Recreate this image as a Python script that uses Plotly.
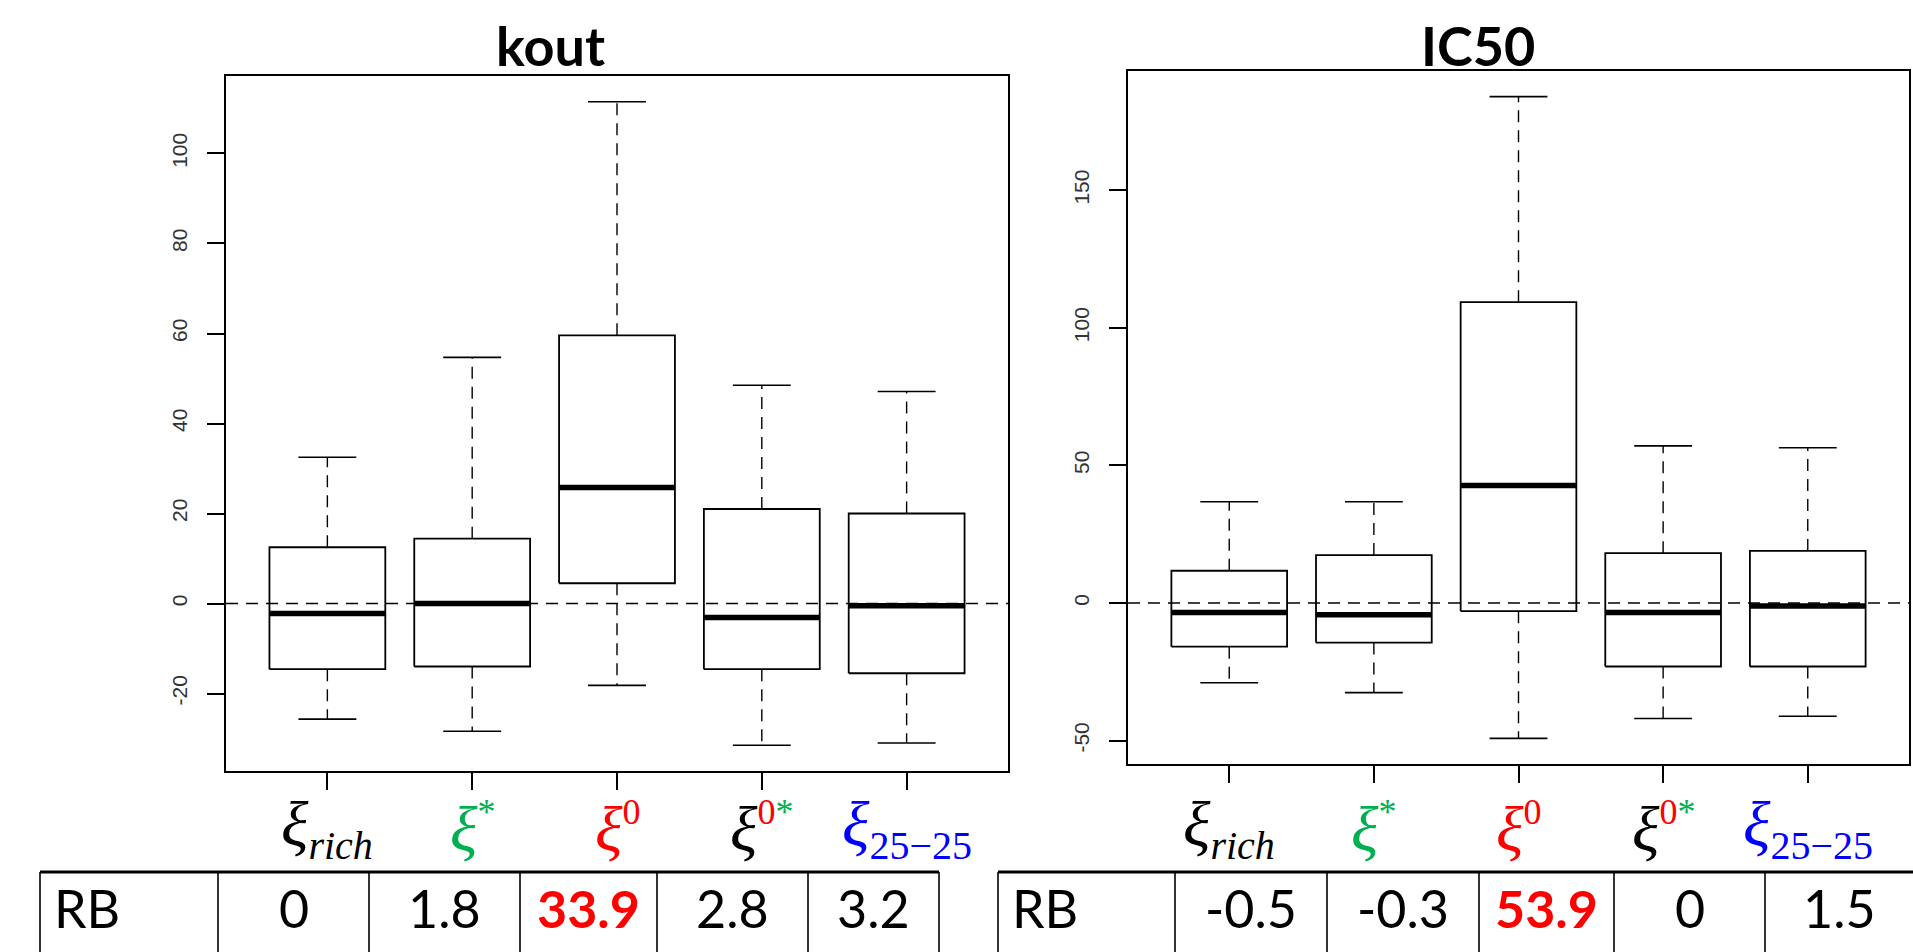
import plotly.graph_objects as go

# ---------------- data ----------------
categories = ["ξ_rich", "ξ*", "ξ0", "ξ0*", "ξ25-25"]

kout_lower = [-25.7, -28.4, -18.2, -31.5, -31.0]
kout_q1 = [-14.6, -14.0, 4.5, -14.6, -15.5]
kout_median = [-2.2, 0.0, 25.8, -3.1, -0.5]
kout_q3 = [12.5, 14.4, 59.6, 21.0, 20.0]
kout_upper = [32.5, 54.7, 111.5, 48.5, 47.1]

ic50_lower = [-29.0, -32.6, -49.2, -42.0, -41.2]
ic50_q1 = [-15.9, -14.4, -3.0, -23.1, -23.1]
ic50_median = [-3.5, -4.3, 42.7, -3.5, -1.1]
ic50_q3 = [11.7, 17.4, 109.3, 18.1, 18.9]
ic50_upper = [36.8, 36.8, 184.0, 57.1, 56.4]

kout_ticks = [-20, 0, 20, 40, 60, 80, 100]
ic50_ticks = [-50, 0, 50, 100, 150]

rb_label = "RB"
rb_kout = ["0", "1.8", "33.9", "2.8", "3.2"]
rb_ic50 = ["-0.5", "-0.3", "53.9", "0", "1.5"]
rb_highlight = [False, False, True, False, False]

titles = ["kout", "IC50"]

# ---------------- styling ----------------
W, H = 1913, 952
GREEN = "#00b050"
RED = "#ff0000"
BLUE = "#0000ff"
SUB = "font-size:40px"
SUP = "font-size:36px"

xi_labels = [
    f"<span style='color:black'><i>ξ</i><sub><span style='{SUB}'><i>rich</i></span></sub></span>",
    f"<span style='color:{GREEN}'><i>ξ</i><sup><span style='{SUP}'>*</span></sup></span>",
    f"<span style='color:{RED}'><i>ξ</i><sup><span style='{SUP}'>0</span></sup></span>",
    f"<span style='color:black'><i>ξ</i></span><sup><span style='color:{RED};{SUP}'>0</span><span style='color:{GREEN};{SUP}'>*</span></sup>",
    f"<span style='color:{BLUE}'><i>ξ</i><sub><span style='{SUB}'>25−25</span></sub></span>",
]

# pixel boxes of the two plot regions (left, right, top, bottom)
panels = [
    dict(x0=226, x1=1008, top=76, bottom=771),
    dict(x0=1128, x1=1909, top=71, bottom=764),
]
table_cols = [
    [40, 218, 369, 520, 657, 808, 939],
    [998, 1175, 1327, 1479, 1614, 1765, 1913],
]
table_top = 872
title_pos = [(550, 45), (1478, 45)]
text_row_y = 908


def px(x):
    return x / W


def py(y):
    return 1 - y / H


fig = go.Figure()


def add_boxes(xa, ya, lower, q1, med, q3, upper):
    n = len(med)
    hw, cw = 0.4, 0.2
    bx, by, wx, wy, cx, cy, mx, my = [], [], [], [], [], [], [], []
    for i in range(n):
        c = i + 1
        bx += [c - hw, c + hw, c + hw, c - hw, c - hw, None]
        by += [q1[i], q1[i], q3[i], q3[i], q1[i], None]
        wx += [c, c, None, c, c, None]
        wy += [q3[i], upper[i], None, q1[i], lower[i], None]
        cx += [c - cw, c + cw, None, c - cw, c + cw, None]
        cy += [upper[i], upper[i], None, lower[i], lower[i], None]
        mx += [c - hw, c + hw, None]
        my += [med[i], med[i], None]
    common = dict(xaxis=xa, yaxis=ya, mode="lines", hoverinfo="skip", showlegend=False)
    fig.add_trace(go.Scatter(x=wx, y=wy, line=dict(color="black", width=1.4, dash="12px,8px"), **common))
    fig.add_trace(go.Scatter(x=cx, y=cy, line=dict(color="black", width=1.6), **common))
    fig.add_trace(go.Scatter(x=bx, y=by, line=dict(color="black", width=1.8), **common))
    fig.add_trace(go.Scatter(x=mx, y=my, line=dict(color="black", width=5.5), **common))


datasets = [
    (kout_lower, kout_q1, kout_median, kout_q3, kout_upper, kout_ticks),
    (ic50_lower, ic50_q1, ic50_median, ic50_q3, ic50_upper, ic50_ticks),
]

layout_axes = {}
shapes = []
annotations = []
for k, (lo, q1, md, q3, up, ticks) in enumerate(datasets):
    xa = "x" if k == 0 else "x2"
    ya = "y" if k == 0 else "y2"
    add_boxes(xa, ya, lo, q1, md, q3, up)
    n = len(md)
    ymin, ymax = min(lo), max(up)
    pad = 0.04 * (ymax - ymin)
    xpad = 0.04 * n
    p = panels[k]
    axname = "" if k == 0 else "2"
    layout_axes["xaxis" + axname] = dict(
        domain=[px(p["x0"]), px(p["x1"])],
        range=[0.5 - xpad, n + 0.5 + xpad],
        anchor=ya,
        tickvals=list(range(1, n + 1)),
        showticklabels=False,
        ticks="outside", ticklen=17, tickwidth=1.5, tickcolor="black",
        showline=True, linecolor="black", linewidth=1.8, mirror=True,
        showgrid=False, zeroline=False, fixedrange=True,
    )
    layout_axes["yaxis" + axname] = dict(
        domain=[py(p["bottom"]), py(p["top"])],
        range=[ymin - pad, ymax + pad],
        anchor=xa,
        tickvals=ticks,
        ticktext=[str(t) for t in ticks],
        tickangle=-90,
        ticks="outside", ticklen=17, tickwidth=1.5, tickcolor="black",
        ticklabelstandoff=12,
        tickfont=dict(family="Liberation Sans, Arial", size=21, color="#333333"),
        showline=True, linecolor="black", linewidth=1.8, mirror=True,
        showgrid=False, zeroline=False, fixedrange=True,
    )
    # dashed reference line at 0
    shapes.append(dict(
        type="line", xref=xa + " domain", x0=0, x1=1, yref=ya, y0=0, y1=0,
        line=dict(color="black", width=1.5, dash="12px,8px"), layer="above",
    ))
    # xi category labels
    for i, lab in enumerate(xi_labels):
        annotations.append(dict(
            xref=xa, x=i + 1, yref="paper", y=py(828), text=lab, showarrow=False,
            xanchor="center", yanchor="middle",
            font=dict(family="Liberation Serif, DejaVu Serif", size=64, color="black"),
        ))
    # title
    tx, ty = title_pos[k]
    annotations.append(dict(
        xref="paper", yref="paper", x=px(tx), y=py(ty), text=f"<b>{titles[k]}</b>",
        showarrow=False, xanchor="center", yanchor="middle",
        font=dict(family="Lato, Liberation Sans", size=54, color="black"),
    ))
    # table
    cols = table_cols[k]
    shapes.append(dict(type="line", xref="paper", yref="paper",
                       x0=px(cols[0]), x1=px(cols[-1]), y0=py(table_top), y1=py(table_top),
                       line=dict(color="black", width=3)))
    inner = cols if k == 0 else cols[:-1]
    for xc in inner:
        shapes.append(dict(type="line", xref="paper", yref="paper",
                           x0=px(xc), x1=px(xc), y0=py(table_top), y1=0,
                           line=dict(color="black", width=1.6)))
    vals = rb_kout if k == 0 else rb_ic50
    annotations.append(dict(
        xref="paper", yref="paper", x=px(cols[0] + 12), y=py(text_row_y), text=rb_label,
        showarrow=False, xanchor="left", yanchor="middle",
        font=dict(family="Lato, Liberation Sans", size=52, color="black"),
    ))
    for i, v in enumerate(vals):
        xc = (cols[i + 1] + cols[i + 2]) / 2
        hl = rb_highlight[i]
        annotations.append(dict(
            xref="paper", yref="paper", x=px(xc), y=py(text_row_y),
            text=f"<b>{v}</b>" if hl else v,
            showarrow=False, xanchor="center", yanchor="middle",
            font=dict(family="Lato, Liberation Sans", size=52, color=RED if hl else "black"),
        ))

fig.update_layout(
    width=W, height=H,
    margin=dict(l=0, r=0, t=0, b=0),
    paper_bgcolor="white", plot_bgcolor="white",
    showlegend=False,
    shapes=shapes,
    annotations=annotations,
    **layout_axes,
)

fig.write_html(
    "out.html",
    config=dict(displayModeBar=False),
    post_script="document.body.style.margin='0';document.body.style.overflow='hidden';",
)
